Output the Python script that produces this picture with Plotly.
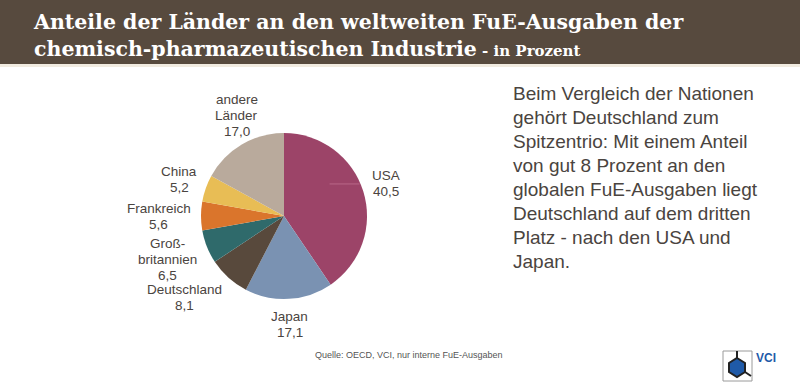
import math
import plotly.graph_objects as go

labels = ["USA", "Japan", "Deutschland", "Groß-<br>britannien", "Frankreich", "China", "andere<br>Länder"]
values = [40.5, 17.1, 8.1, 6.5, 5.6, 5.2, 17.0]
colors = ["#9c4468", "#7a92b2", "#58493c", "#2f6a6b", "#da752c", "#e8bd55", "#b9aa9c"]

title_line1 = "Anteile der Länder an den weltweiten FuE-Ausgaben der"
title_line2 = "chemisch-pharmazeutischen Industrie"
title_suffix = " - in Prozent"
body_lines = [
    "Beim Vergleich der Nationen",
    "gehört Deutschland zum",
    "Spitzentrio: Mit einem Anteil",
    "von gut 8 Prozent an den",
    "globalen FuE-Ausgaben liegt",
    "Deutschland auf dem dritten",
    "Platz - nach den USA und",
    "Japan.",
]
source = "Quelle: OECD, VCI, nur interne FuE-Ausgaben"

W, H = 800, 387
cx, cy, r = 284, 216, 83
label_gap = 10
label_size = 13.5
label_line = 16

# approximate Arial/Liberation Sans advance widths (em) for text block width estimation
_narrow = {"i": 0.222, "l": 0.222, "j": 0.222, "t": 0.278, "f": 0.278, "r": 0.333, ",": 0.278,
           ".": 0.278, "-": 0.333, "m": 0.833, "w": 0.722, "c": 0.5, "k": 0.5, "s": 0.5,
           "z": 0.5, "y": 0.5, "ß": 0.611}


def text_width(t, size):
    w = 0.0
    for ch in t:
        if ch in _narrow:
            w += _narrow[ch]
        elif ch.isupper():
            w += 0.667
        else:
            w += 0.556
    return w * size


fig = go.Figure(go.Pie(
    labels=labels,
    values=values,
    marker=dict(colors=colors, line=dict(width=0)),
    sort=False,
    direction="clockwise",
    rotation=0,
    textinfo="none",
    showlegend=False,
    hoverinfo="label+value",
    domain=dict(x=[(cx - r) / W, (cx + r) / W], y=[(H - cy - r) / H, (H - cy + r) / H]),
))

shapes = [
    dict(type="rect", xref="paper", yref="paper", x0=0, x1=1, y0=1 - 64 / H, y1=1,
         fillcolor="#574a3e", line=dict(width=0), layer="below"),
    dict(type="rect", xref="paper", yref="paper", x0=0, x1=1, y0=1 - 67 / H, y1=1 - 64 / H,
         fillcolor="#f1ebe0", line=dict(width=0), layer="below"),
    # VCI logo box
    dict(type="rect", xref="paper", yref="paper", x0=723 / W, x1=752 / W, y0=1 - 381 / H, y1=1 - 351 / H,
         fillcolor="white", line=dict(color="#9a9a9a", width=1)),
    dict(type="path", xref="paper", yref="paper",
         path="M {},{} L {},{} L {},{} L {},{} L {},{} L {},{} Z".format(
             737 / W, 1 - 358 / H, 745 / W, 1 - 363 / H, 745 / W, 1 - 372 / H,
             737 / W, 1 - 377 / H, 729 / W, 1 - 372 / H, 729 / W, 1 - 363 / H),
         fillcolor="#1f5aa8", line=dict(color="#222", width=2)),
    dict(type="line", xref="paper", yref="paper", x0=737 / W, x1=737 / W, y0=1 - 358 / H, y1=1 - 351 / H,
         line=dict(color="#222", width=2)),
    dict(type="line", xref="paper", yref="paper", x0=745 / W, x1=751 / W, y0=1 - 372 / H, y1=1 - 376 / H,
         line=dict(color="#222", width=2)),
]

annotations = [
    dict(xref="paper", yref="paper", x=31 / W, y=1 - 8 / H, xanchor="left", yanchor="top",
         showarrow=False, align="left",
         text="<b>" + title_line1 + "</b><br><b>" + title_line2 + "</b><b><span style='font-size:15px'>" + title_suffix + "</span></b>",
         font=dict(family="DejaVu Serif", size=20.5, color="white")),
    dict(xref="paper", yref="paper", x=313 / W, y=1 - 355 / H, xanchor="left", yanchor="middle",
         showarrow=False, text=source,
         font=dict(family="Liberation Sans, Arial", size=9, color="#555")),
    dict(xref="paper", yref="paper", x=754 / W, y=1 - 358 / H, xanchor="left", yanchor="middle",
         showarrow=False, text="<b>VCI</b>",
         font=dict(family="Liberation Sans, Arial", size=12, color="#1f5aa8")),
]

for i, line in enumerate(body_lines):
    annotations.append(dict(
        xref="paper", yref="paper", x=511 / W, y=1 - (93 + i * 24) / H,
        xanchor="left", yanchor="middle", showarrow=False, text=line,
        font=dict(family="Liberation Sans, Arial", size=19, color="#4a4440")))

# slice labels placed outside at each slice's mid-angle (clockwise from 12 o'clock)
total = sum(values)
cum = 0.0
for k, (lab, val) in enumerate(zip(labels, values)):
    mid = (cum + val / 2) / total * 2 * math.pi
    cum += val
    s, c = math.sin(mid), math.cos(mid)
    R = r + label_gap
    px = cx + R * s
    py = cy - R * c
    lines = lab.split("<br>") + [("%.1f" % val).replace(".", ",")]
    h = len(lines) * label_line
    center_y = py - c * h / 2
    bw = max(text_width(t, label_size) for t in lines)
    if s > 0.6:
        center_x = px + bw / 2
    elif s < -0.6:
        center_x = px - bw / 2
    else:
        center_x = px
    top = center_y - h / 2
    if k == 0:
        # faint leader line inside the USA slice, ending at the pie edge
        ly = top + label_line
        edge_x = cx + math.sqrt(max(r * r - (ly - cy) ** 2, 0)) - 1
        shapes.append(dict(type="line", xref="paper", yref="paper",
                           x0=(edge_x - 30) / W, x1=edge_x / W, y0=1 - ly / H, y1=1 - ly / H,
                           line=dict(color="rgba(215,140,170,0.5)", width=1)))
    for j, t in enumerate(lines):
        annotations.append(dict(
            xref="paper", yref="paper", x=center_x / W, y=1 - (top + label_line * (j + 0.5)) / H,
            xanchor="center", yanchor="middle", showarrow=False, text=t,
            font=dict(family="Liberation Sans, Arial", size=label_size, color="#4a4440")))

fig.update_layout(
    width=W, height=H,
    margin=dict(l=0, r=0, t=0, b=0),
    paper_bgcolor="white",
    plot_bgcolor="white",
    shapes=shapes,
    annotations=annotations,
    separators=",.",
)

fig.write_html("out.html", config={"displayModeBar": False},
               post_script="document.body.style.margin='0';")
